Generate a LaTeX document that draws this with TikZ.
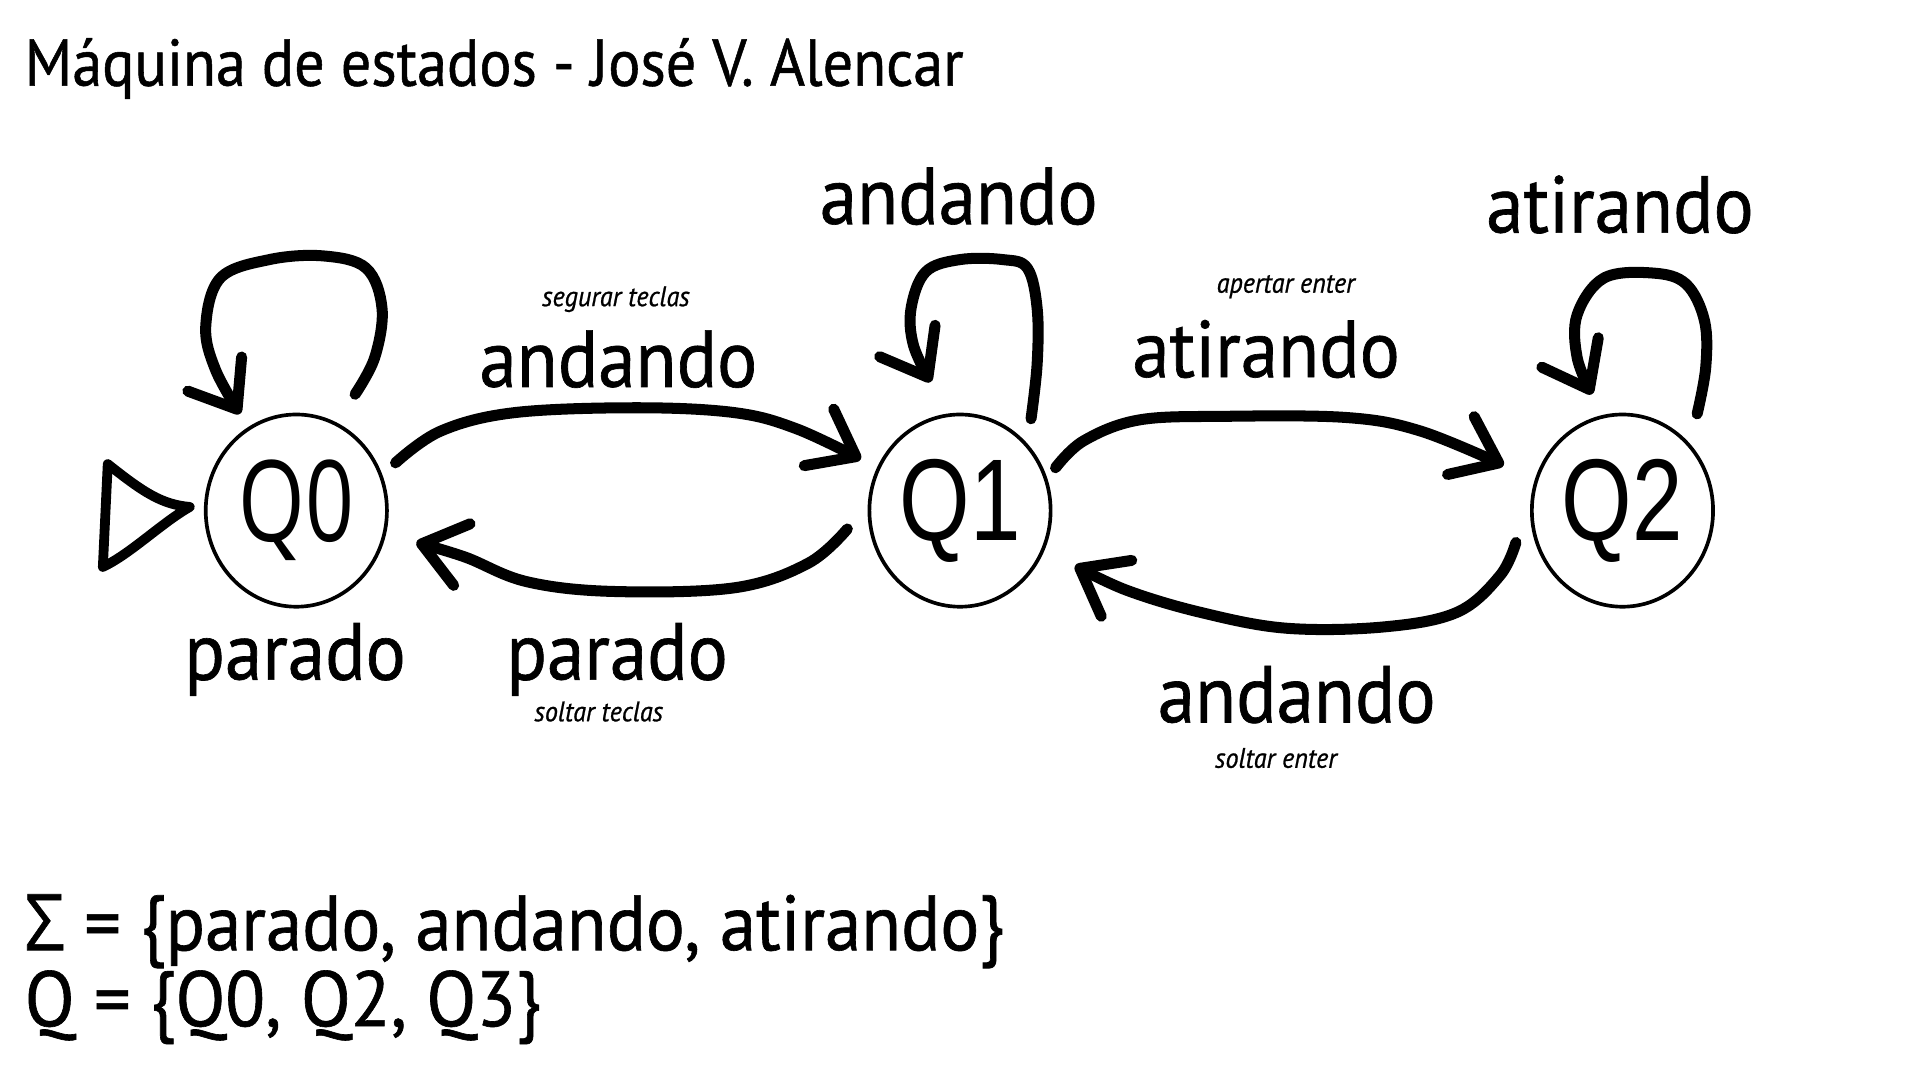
\documentclass[tikz,border=0pt]{standalone}
\usepackage{fontspec}
\setmainfont{PT Sans}[FakeStretch=0.93,FakeBold=0.8]
\newfontfamily\titlefont{PT Sans}[FakeStretch=0.91,FakeBold=0.8]
\newfontfamily\qfont{Liberation Sans}[FakeStretch=0.78]
\newfontfamily\qzfont{Open Sans}[FakeStretch=0.76]
\newfontfamily\gkfont{Open Sans}[FakeStretch=0.9,FakeBold=0.8]
\usetikzlibrary{calc,arrows.meta,shapes.geometric}
\begin{document}
\begin{tikzpicture}[x=1pt,y=-1pt,
  state/.style={ellipse,draw,line width=3pt,minimum width=148pt,minimum height=157pt,inner sep=0pt,font=\qfont\fontsize{95}{95}\selectfont},
  conn/.style={line width=9pt,line cap=round,line join=round,-{Straight Barb[length=34pt,width=52pt,line cap=round,line join=round]}},
  marker/.style={line width=8pt,line cap=round,line join=round},
  big/.style={font=\fontsize{66}{66}\selectfont,inner sep=0pt,anchor=base},
  small/.style={font=\itshape\fontsize{23}{23}\selectfont,inner sep=0pt,anchor=base},
  set/.style={font=\fontsize{64}{64}\selectfont,inner sep=0pt,anchor=base west},
]
\useasboundingbox (0,0) rectangle (1568,882);
\fill[white] (0,0) rectangle (1568,882);

\node[inner sep=0pt,anchor=base west,font=\titlefont\fontsize{54}{54}\selectfont] (title) at (20,70) {Máquina de estados - José V. Alencar};

\node[state,font=\qzfont\fontsize{92}{92}\selectfont] (Q0) at (242,417) {Q0};
\node[state] (Q1) at (784,417) {Q1};
\node[state] (Q2) at (1325,417) {Q2};

% initial marker
\draw[marker] ($(Q0)+(-154,-38)$) .. controls ($(Q0)+(-125,-15)$) and ($(Q0)+(-110,-5)$) .. ($(Q0)+(-87,-3)$)
  .. controls ($(Q0)+(-110,10)$) and ($(Q0)+(-135,35)$) .. ($(Q0)+(-158,46)$) -- cycle;

% self loops
\draw[conn] plot[smooth,tension=0.6] coordinates {($(Q0)+(48,-95)$) ($(Q0)+(64,-125)$) ($(Q0)+(70,-165)$) ($(Q0)+(57,-198)$) ($(Q0)+(22,-208)$) ($(Q0)+(-22,-205)$) ($(Q0)+(-62,-190)$) ($(Q0)+(-74,-150)$) ($(Q0)+(-66,-115)$) ($(Q0)+(-46,-79)$)};
\draw[conn] plot[smooth,tension=0.6] coordinates {($(Q1)+(58,-75)$) ($(Q1)+(63,-120)$) ($(Q1)+(63,-165)$) ($(Q1)+(55,-198)$) ($(Q1)+(35,-205)$) ($(Q1)+(0,-205)$) ($(Q1)+(-28,-195)$) ($(Q1)+(-40,-165)$) ($(Q1)+(-38,-135)$) ($(Q1)+(-24,-105)$)};
\draw[conn] plot[smooth,tension=0.6] coordinates {($(Q2)+(61,-79)$) ($(Q2)+(68,-117)$) ($(Q2)+(67,-155)$) ($(Q2)+(52,-185)$) ($(Q2)+(25,-194)$) ($(Q2)+(-15,-190)$) ($(Q2)+(-37,-160)$) ($(Q2)+(-37,-125)$) ($(Q2)+(-25,-95)$)};

% transitions
\draw[conn] plot[smooth,tension=0.6] coordinates {($(Q0)+(81,-39)$) ($(Q0)+(118,-65)$) ($(Q0)+(178,-80)$) ($(Q0)+(278,-84)$) ($(Q0)+(358,-80)$) ($(Q0)+(408,-67)$) ($(Q0)+(461,-42)$)};
\draw[conn] plot[smooth,tension=0.6] coordinates {($(Q1)+(-92,15)$) ($(Q1)+(-124,43)$) ($(Q1)+(-184,63)$) ($(Q1)+(-284,66)$) ($(Q1)+(-354,58)$) ($(Q1)+(-404,38)$) ($(Q1)+(-444,26)$)};
\draw[conn] plot[smooth,tension=0.6] coordinates {($(Q1)+(78,-35)$) ($(Q1)+(101,-57)$) ($(Q1)+(146,-74)$) ($(Q1)+(216,-77)$) ($(Q1)+(316,-76)$) ($(Q1)+(376,-65)$) ($(Q1)+(444,-37)$)};
\draw[conn] plot[smooth,tension=0.6] coordinates {($(Q2)+(-87,26)$) ($(Q2)+(-100,53)$) ($(Q2)+(-135,83)$) ($(Q2)+(-195,95)$) ($(Q2)+(-275,96)$) ($(Q2)+(-345,83)$) ($(Q2)+(-405,65)$) ($(Q2)+(-447,45)$)};

% labels
\node[small] (l1) at (503,250) {segurar teclas};
\node[big] (l2) at (505,316) {andando};
\node[big] (l3) at (241,555) {parado};
\node[big] (l4) at (504,555) {parado};
\node[small] (l5) at (489,589) {soltar teclas};
\node[big] (l6) at (783,183) {andando};
\node[small] (l7) at (1050,239) {apertar enter};
\node[big] (l8) at (1034,308) {atirando};
\node[big] (l9) at (1323,190) {atirando};
\node[big] (l10) at (1059,590) {andando};
\node[small] (l11) at (1042,627) {soltar enter};

\node[set] (sigma) at (20,776) {{\gkfont Σ} = \{parado, andando, atirando\}};
\node[set] (qset) at (20,838) {Q = \{Q0, Q2, Q3\}};
\end{tikzpicture}
\end{document}
